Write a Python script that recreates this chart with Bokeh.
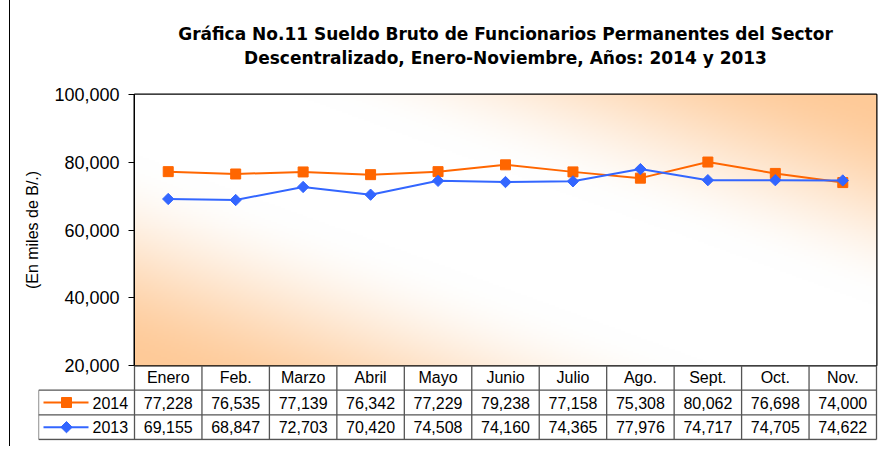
import numpy as np
from bokeh.plotting import figure
from bokeh.models import Title, FixedTicker, NumeralTickFormatter, Range1d
from bokeh.layouts import column
from bokeh.core.properties import value
from bokeh.embed import file_html
from bokeh.resources import INLINE

# ---------------- data ----------------
months = ["Enero", "Feb.", "Marzo", "Abril", "Mayo", "Junio",
          "Julio", "Ago.", "Sept.", "Oct.", "Nov."]
y2014 = [77228, 76535, 77139, 76342, 77229, 79238, 77158, 75308, 80062, 76698, 74000]
y2013 = [69155, 68847, 72703, 70420, 74508, 74160, 74365, 77976, 74717, 74705, 74622]
series_names = ["2014", "2013"]
y_ticks = [20000, 40000, 60000, 80000, 100000]
title_1 = "Gráfica No.11 Sueldo Bruto de Funcionarios Permanentes del Sector"
title_2 = "Descentralizado, Enero-Noviembre, Años: 2014 y 2013"
y_label = "(En miles de B/.)"

# ---------------- style ----------------
ORANGE = "#FF6600"
BLUE = "#3366FF"
FONT = "Liberation Sans"
TITLE_FONT = "DejaVu Sans"
GRID = "#555555"

n = len(months)
xc = [i + 0.5 for i in range(n)]

FIG_W = 876
FRAME_L, FRAME_R_PAD = 124, 10
FRAME_W = FIG_W - FRAME_L - FRAME_R_PAD
PX_PER_COL = FRAME_W / n
OVERLAP = 12

# ---------------- chart ----------------
p = figure(width=FIG_W, height=94 + 271 + OVERLAP, output_backend="svg", toolbar_location=None,
           x_range=Range1d(0, n), y_range=Range1d(y_ticks[0], y_ticks[-1]),
           x_axis_location=None, title=None,
           min_border_left=FRAME_L, min_border_right=FRAME_R_PAD,
           min_border_top=94, min_border_bottom=OVERLAP)
p.frame_align = False
p.background_fill_color = "white"
p.border_fill_color = "white"
p.outline_line_color = "black"
p.outline_line_width = 2
p.grid.visible = False

# gradient background (decoration): orange corners bottom-left / top-right, soft white band
H, W = 136, 371
u = np.linspace(0, 1, W)[None, :]
w = np.linspace(0, 1, H)[:, None]
k = np.abs(u + w - 1.0)
s = np.clip((k - 0.22) / 0.78, 0, 1)
k = s * s * (3 - 2 * s)
orange_bg = np.array([254, 202, 152], dtype=float)
white = np.array([255, 255, 255], dtype=float)
rgb = white[None, None, :] + (orange_bg - white)[None, None, :] * k[:, :, None]
img = np.empty((H, W), dtype=np.uint32)
view = img.view(dtype=np.uint8).reshape((H, W, 4))
view[:, :, 0] = rgb[:, :, 0].astype(np.uint8)
view[:, :, 1] = rgb[:, :, 1].astype(np.uint8)
view[:, :, 2] = rgb[:, :, 2].astype(np.uint8)
view[:, :, 3] = 255
p.image_rgba(image=[img], x=0, y=y_ticks[0], dw=n, dh=y_ticks[-1] - y_ticks[0])

p.line(xc, y2014, color=ORANGE, line_width=2)
p.scatter(xc, y2014, marker="square", size=10, color=ORANGE)
p.line(xc, y2013, color=BLUE, line_width=2)
p.scatter(xc, y2013, marker="square", angle=np.pi / 4, size=8, color=BLUE)

ax = p.yaxis[0]
ax.ticker = FixedTicker(ticks=y_ticks)
ax.formatter = NumeralTickFormatter(format="0,0")
ax.major_label_text_font = FONT
ax.major_label_text_font_size = "18px"
ax.major_label_text_color = "black"
ax.major_tick_in = 0
ax.major_tick_out = 6
ax.major_tick_line_color = "black"
ax.minor_tick_line_color = None
ax.axis_line_color = "black"
ax.major_label_standoff = 9
ax.axis_label = y_label
ax.axis_label_text_font = FONT
ax.axis_label_text_font_size = "16px"
ax.axis_label_text_font_style = "normal"
ax.axis_label_text_color = "black"
ax.axis_label_standoff = 10

# second title line (a trailing empty line keeps it clear of the frame)
p.add_layout(Title(text=title_2 + "\n", align="center", text_font=TITLE_FONT,
                   text_font_size="17px", text_line_height=1.25,
                   text_font_style="bold", text_color="black", standoff=4), "above")
p.add_layout(Title(text=title_1, align="center", text_font=TITLE_FONT,
                   text_font_size="17px", text_font_style="bold", text_color="black",
                   standoff=0), "above")

# ---------------- data table ----------------
LEG_PX = 96
L = LEG_PX / PX_PER_COL
t = figure(width=FIG_W, height=81, output_backend="svg", toolbar_location=None,
           x_range=Range1d(-L, n + 2 / PX_PER_COL), y_range=Range1d(-0.04, 3),
           x_axis_location=None, y_axis_location=None, title=None,
           min_border_left=FRAME_L - LEG_PX, min_border_right=FRAME_R_PAD - 2,
           min_border_top=0, min_border_bottom=6)
t.frame_align = False
t.outline_line_color = None
t.background_fill_alpha = 0
t.border_fill_alpha = 0
t.grid.visible = False
t.margin = (-OVERLAP, 0, 0, 0)

# grid lines
hy = [2, 1, 0]
t.segment(x0=[-L] * len(hy), y0=hy, x1=[n] * len(hy), y1=hy, line_color=GRID, line_width=1.3)
vx = list(range(n + 1))
t.segment(x0=vx, y0=[0] * len(vx), x1=vx, y1=[3] * len(vx), line_color=GRID, line_width=1.3)
t.segment(x0=[-L], y0=[0], x1=[-L], y1=[2], line_color=GRID, line_width=1.3)

txt_kw = dict(text_font=value(FONT), text_font_size=value("16px"), text_color="black",
              text_align="center", text_baseline="middle")
t.text(x=xc, y=[2.5] * n, text=months, **txt_kw)
t.text(x=xc, y=[1.5] * n, text=[f"{v:,}" for v in y2014], **txt_kw)
t.text(x=xc, y=[0.5] * n, text=[f"{v:,}" for v in y2013], **txt_kw)

# legend keys in first column
def px(off):
    return -L + off / PX_PER_COL

rows_y = [1.5, 0.5]
colors = [ORANGE, BLUE]
for name, yy, col in zip(series_names, rows_y, colors):
    t.segment(x0=[px(5)], y0=[yy], x1=[px(50)], y1=[yy], line_color=col, line_width=2)
    if col == ORANGE:
        t.scatter([px(28)], [yy], marker="square", size=10, color=col)
    else:
        t.scatter([px(28)], [yy], marker="square", angle=np.pi / 4, size=8, color=col)
    t.text(x=[px(54)], y=[yy], text=[name], text_font=value(FONT), text_font_size=value("16px"),
           text_color="black", text_align="left", text_baseline="middle")

layout = column(p, t, styles={"margin-left": "9px", "border-left": "1px solid black"})
open("out.html", "w").write(file_html(layout, INLINE))
